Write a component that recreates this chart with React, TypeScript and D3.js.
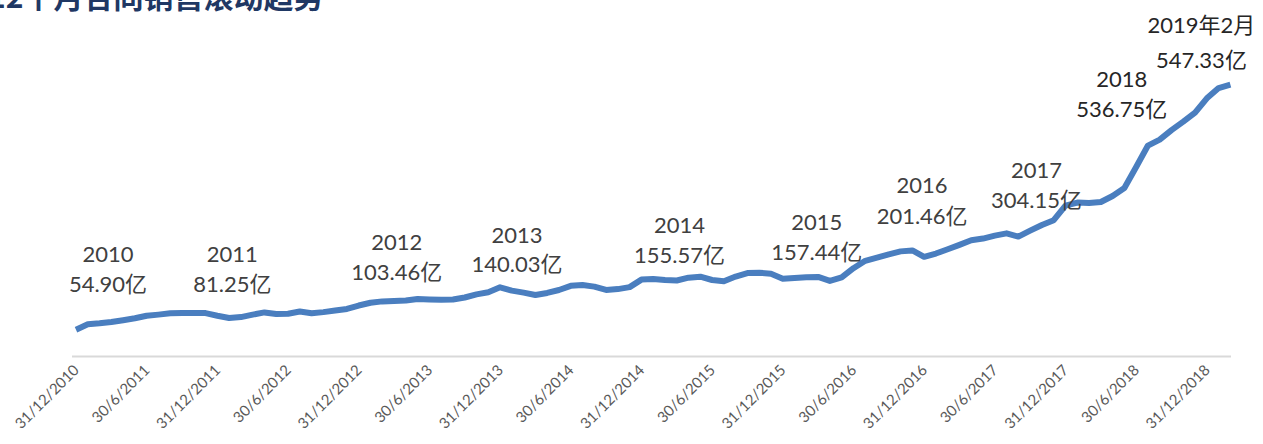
import React from "react";
import * as d3 from "d3";

// Rolling 12-month contract sales (亿), monthly from 31/12/2010 to Feb 2019
const sales2011 = [54.9, 65.7, 67.7, 70.3, 74, 77.8, 83, 85.2, 87.8, 88.2, 88.6, 88.2, 83];
const sales2012 = [78.4, 80.2, 85.2, 89.6, 86.4, 86.8, 91.4, 87.8, 90.2, 93.3, 96.5, 103.46];
const sales2013 = [109, 111.8, 112.6, 113.4, 116.6, 115.8, 115.2, 115.6, 119.6, 125.8, 130.2, 140.03];
const sales2014 = [133.5, 129.4, 124.6, 128.8, 134.7, 143.1, 144.7, 141.5, 134.7, 136.5, 140.5, 155.57];
const sales2015 = [156.8, 154.8, 153.8, 159.4, 161.4, 154.8, 152.4, 161.8, 168.8, 169.5, 167.4, 157.44];
const sales2016 = [158.8, 160.2, 161, 153, 160, 178.5, 193.4, 199.8, 206.4, 212.3, 214.3, 201.46];
const sales2017 = [208, 216.7, 225.5, 234.8, 238, 244, 248.6, 242, 253.9, 265.3, 275, 304.15];
const sales2018 = [310.5, 309.5, 311.5, 323.6, 339.7, 382, 425, 437, 456, 473, 491, 520];
const sales2019 = [540.6, 547.33];
const sales = [
  ...sales2011, ...sales2012, ...sales2013, ...sales2014, ...sales2015,
  ...sales2016, ...sales2017, ...sales2018, ...sales2019,
];

const tickLabels = [
  "31/12/2010", "30/6/2011", "31/12/2011", "30/6/2012", "31/12/2012", "30/6/2013",
  "31/12/2013", "30/6/2014", "31/12/2014", "30/6/2015", "31/12/2015", "30/6/2016",
  "31/12/2016", "30/6/2017", "31/12/2017", "30/6/2018", "31/12/2018",
];

const annYears = ["2010", "2011", "2012", "2013", "2014", "2015", "2016", "2017", "2018", "2019年2月"];
const annValues = ["54.90亿", "81.25亿", "103.46亿", "140.03亿", "155.57亿", "157.44亿", "201.46亿", "304.15亿", "536.75亿", "547.33亿"];
const annIndex = [0, 12, 24, 36, 48, 60, 72, 84, 96, 98];

// layout offsets of the annotation text relative to its point (px)
const annLayout = [
  { dx: 32, dy: -37.7, gap: 30 },
  { dx: 15, dy: -23.5, gap: 30 },
  { dx: 38, dy: -25.6, gap: 30 },
  { dx: 17, dy: -15.3, gap: 29 },
  { dx: 38, dy: -16.6, gap: 30 },
  { dx: 34, dy: -18.4, gap: 30 },
  { dx: -2, dy: -32.8, gap: 31 },
  { dx: -29, dy: 2.3, gap: 30 },
  { dx: -85, dy: 18.7, gap: 30 },
  { dx: -29, dy: -16.7, gap: 35 },
];

const W = 1263;
const H = 444;

export default function App() {
  const x = d3.scaleLinear().domain([0, sales.length - 1]).range([76, 1230.4]);
  const y = d3.scaleLinear().domain([0, 600]).range([357, 357 - 600 * 0.4975]);
  const line = d3
    .line<number>()
    .x((_, i) => x(i))
    .y((d) => y(d));

  const labelFont = "Lato, 'Noto Sans CJK SC', sans-serif";

  return (
    <svg
      width={W}
      height={H}
      viewBox={`0 0 ${W} ${H}`}
      style={{ position: "absolute", left: 0, top: 0, background: "#fff" }}
    >
      <text
        x={-12}
        y={8}
        fontFamily="'Noto Sans CJK SC', sans-serif"
        fontWeight={700}
        fontSize={30}
        fill="#1F3864"
      >
        12个月合同销售滚动趋势
      </text>

      <line x1={72} x2={1231} y1={y(0) - 0.5} y2={y(0) - 0.5} stroke="#d9d9d9" strokeWidth={2} />

      <path
        d={line(sales) || ""}
        fill="none"
        stroke="#4A7EBF"
        strokeWidth={6}
        strokeLinejoin="round"
        strokeLinecap="butt"
      />

      {tickLabels.map((t, k) => {
        const tx = x(k * 6) + 4;
        const ty = 371;
        return (
          <text
            key={t}
            x={tx}
            y={ty}
            transform={`rotate(-45 ${tx} ${ty})`}
            textAnchor="end"
            fontFamily={labelFont}
            fontSize={15}
            fill="#595959"
          >
            {t}
          </text>
        );
      })}

      {annYears.map((yr, k) => {
        const idx = annIndex[k];
        const L = annLayout[k];
        const cx = x(idx) + L.dx;
        const by = y(sales[idx]) + L.dy;
        const col = k >= 8 ? "#262626" : "#404040";
        return (
          <g key={yr} fontFamily={labelFont} fontSize={22} fill={col} textAnchor="middle">
            <text x={cx} y={by - L.gap}>{yr}</text>
            <text x={cx} y={by}>{annValues[k]}</text>
          </g>
        );
      })}
    </svg>
  );
}
